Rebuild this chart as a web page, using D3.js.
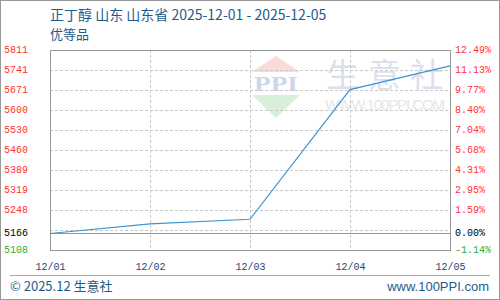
<!DOCTYPE html>
<html>
<head>
<meta charset="utf-8">
<script src="https://cdn.jsdelivr.net/npm/d3@7"></script>
<style>
  body { margin: 0; background: #fff; }
  #container { width: 500px; height: 300px; }
</style>
</head>
<body>
<div id="container"></div>
<script>
const title = "正丁醇 山东 山东省 2025-12-01 - 2025-12-05";
const subtitle = "优等品";
const dates = ["12/01", "12/02", "12/03", "12/04", "12/05"];
const prices = [5166, 5200, 5216, 5672, 5755];
const baseValue = 5166;
const leftTicks = [5811, 5741, 5671, 5600, 5530, 5460, 5389, 5319, 5248, 5166, 5108];
const rightTicks = [12.49, 11.13, 9.77, 8.40, 7.04, 5.68, 4.31, 2.95, 1.59, 0.00, -1.14];
const markChars = ["生", "意", "社"];

document.addEventListener("DOMContentLoaded", () => {
  makeChart();
});

function makeChart(){
  const w = 500;
  const h = 300;
  const left = 50, right = 450, top = 50, bottom = 250;
  const mono = "'Liberation Mono', 'DejaVu Sans Mono', monospace";
  const blue = "#1d5b8f";

  const yMin = d3.min(leftTicks), yMax = d3.max(leftTicks);
  const yScale = d3.scaleLinear().domain([yMin, yMax]).range([bottom, top]);
  const pctScale = d3.scaleLinear()
                     .domain([d3.min(rightTicks), d3.max(rightTicks)])
                     .range([bottom, top]);
  const xScale = d3.scalePoint().domain(dates).range([left, right]);

  const labelColor = (i, n) => i === n - 2 ? "#000" : (i === n - 1 ? "#33aa33" : "#ff3333");

  let svg = d3.select("#container")
              .append("svg")
              .attr("width", w)
              .attr("height", h);

  // outer border
  svg.append("rect")
     .attr("x", 0.5).attr("y", 0.5)
     .attr("width", w - 1).attr("height", h - 1)
     .attr("fill", "#fff")
     .attr("stroke", "#999");

  // watermark
  const wm = svg.append("g");
  wm.append("path")
    .attr("d", "M276,56 L300,72 L252,72 Z")
    .attr("fill", "#fadbd8");
  wm.append("path")
    .attr("d", "M252,95 L300,95 L276,118 Z")
    .attr("fill", "#d9efdb");
  wm.append("text")
    .attr("x", 276).attr("y", 91)
    .attr("text-anchor", "middle")
    .attr("font-family", "'Liberation Serif', serif")
    .attr("font-weight", "bold")
    .attr("font-size", 22)
    .attr("textLength", 44)
    .attr("lengthAdjust", "spacingAndGlyphs")
    .attr("fill", "#cdd6ea")
    .text("PPI");
  wm.selectAll("text.mark")
    .data(markChars)
    .enter()
    .append("text")
    .attr("class", "mark")
    .attr("x", (d, i) => 326 + i * 42)
    .attr("y", 87)
    .attr("font-family", "'Noto Sans CJK SC', sans-serif")
    .attr("font-size", 33)
    .attr("fill", "#dbe1ec")
    .text(d => d);
  wm.append("text")
    .attr("x", 325).attr("y", 110)
    .attr("font-family", "'Liberation Sans', sans-serif")
    .attr("font-size", 15)
    .attr("textLength", 120)
    .attr("fill", "#e6e6e6")
    .text("WWW.100PPI.COM");

  // grid
  const gridValues = d3.range(1, 10).map(i => yMin + i * (yMax - yMin) / 10);
  svg.append("g")
     .selectAll("line")
     .data(gridValues)
     .enter()
     .append("line")
     .attr("x1", left).attr("x2", right)
     .attr("y1", d => Math.round(yScale(d)) + 0.5)
     .attr("y2", d => Math.round(yScale(d)) + 0.5)
     .attr("stroke", "#c8c8c8")
     .attr("stroke-dasharray", "3,2");

  svg.append("g")
     .selectAll("line")
     .data(dates.slice(1, -1))
     .enter()
     .append("line")
     .attr("x1", d => xScale(d) + 0.5).attr("x2", d => xScale(d) + 0.5)
     .attr("y1", top).attr("y2", bottom)
     .attr("stroke", "#c8c8c8")
     .attr("stroke-dasharray", "3,2");

  // frame + base line
  svg.append("rect")
     .attr("x", left + 0.5).attr("y", top + 0.5)
     .attr("width", right - left).attr("height", bottom - top)
     .attr("fill", "none")
     .attr("stroke", "#999");

  svg.append("line")
     .attr("x1", left).attr("x2", right)
     .attr("y1", Math.round(yScale(baseValue)) + 0.5)
     .attr("y2", Math.round(yScale(baseValue)) + 0.5)
     .attr("stroke", "#999");

  // data line
  const line = d3.line()
                 .x((d, i) => xScale(dates[i]))
                 .y(d => yScale(d));
  svg.append("path")
     .datum(prices)
     .attr("d", line)
     .attr("fill", "none")
     .attr("stroke", "#3a96d4")
     .attr("stroke-width", 1.2);

  // left axis labels
  const yAxis = d3.axisRight(yScale).tickValues(leftTicks).tickSize(0).tickPadding(0)
                  .tickFormat(d3.format("d"));
  const gl = svg.append("g")
                .attr("transform", "translate(4,-1)")
                .call(yAxis);
  gl.select(".domain").remove();
  gl.selectAll("text")
    .attr("font-family", mono)
    .attr("font-size", 10)
    .attr("fill", (d, i) => labelColor(i, leftTicks.length));

  // right axis labels
  const pAxis = d3.axisRight(pctScale).tickValues(rightTicks).tickSize(0).tickPadding(5)
                  .tickFormat(d => d.toFixed(2) + "%");
  const gr = svg.append("g")
                .attr("transform", "translate(450,-1)")
                .call(pAxis);
  gr.select(".domain").remove();
  gr.selectAll("text")
    .attr("font-family", mono)
    .attr("font-size", 10)
    .attr("fill", (d, i) => labelColor(i, rightTicks.length));

  // x axis labels
  const xAxis = d3.axisBottom(xScale).tickSize(0).tickPadding(13);
  const gx = svg.append("g")
                .attr("transform", "translate(0," + bottom + ")")
                .call(xAxis);
  gx.select(".domain").remove();
  gx.selectAll("text")
    .attr("font-family", mono)
    .attr("font-size", 10)
    .attr("fill", "#1a4a7a");

  // title
  svg.append("text")
     .attr("x", 50).attr("y", 20)
     .attr("font-family", "'Noto Sans CJK SC', sans-serif")
     .attr("font-size", 14)
     .attr("fill", blue)
     .text(title);
  svg.append("text")
     .attr("x", 50).attr("y", 39)
     .attr("font-family", "'Noto Sans CJK SC', sans-serif")
     .attr("font-size", 13)
     .attr("fill", blue)
     .text(subtitle);

  // footer
  svg.append("line")
     .attr("x1", 10).attr("x2", 490)
     .attr("y1", 275.5).attr("y2", 275.5)
     .attr("stroke", "#aaa");
  svg.append("text")
     .attr("x", 10).attr("y", 291)
     .attr("font-family", "'Noto Sans CJK SC', sans-serif")
     .attr("font-size", 13)
     .attr("fill", blue)
     .text("© 2025.12 生意社");
  svg.append("text")
     .attr("x", 489).attr("y", 291)
     .attr("text-anchor", "end")
     .attr("font-family", "'Liberation Sans', sans-serif")
     .attr("font-size", 13)
     .attr("fill", blue)
     .text("www.100PPI.com");
}
</script>
</body>
</html>
